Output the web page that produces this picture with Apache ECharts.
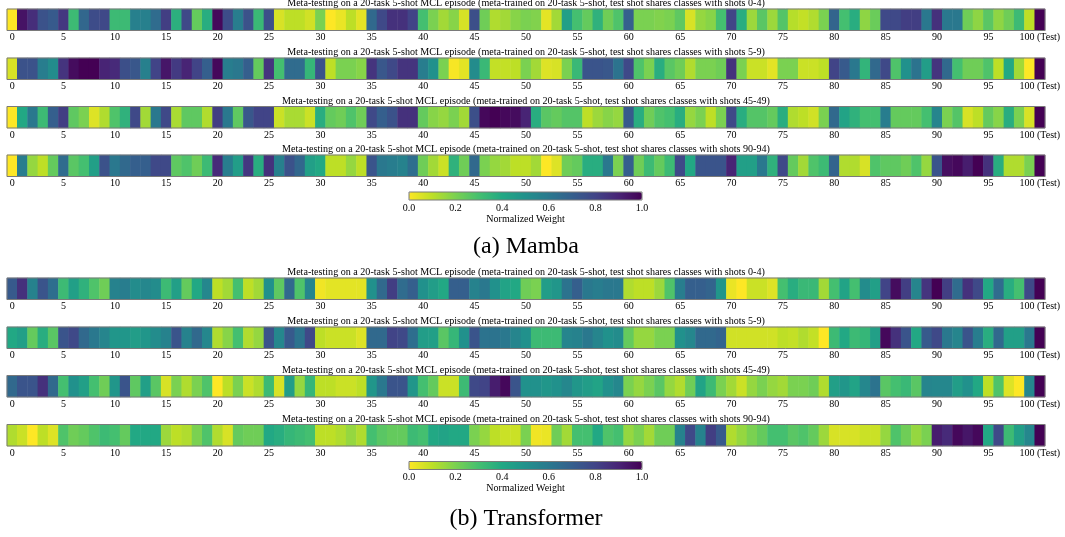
<!DOCTYPE html>
<html>
<head>
<meta charset="utf-8">
<script src="https://cdn.jsdelivr.net/npm/echarts@6/dist/echarts.min.js"></script>
<style>
  html, body { margin: 0; padding: 0; background: #fff; }
  #chart { width: 1065px; height: 537px; }
</style>
</head>
<body>
<div id="chart"></div>
<script>
// shot positions 0..100 (100 = test shot)
const positions = Array.from({ length: 101 }, (_, i) => String(i));
const tickLabels = ['0', '5', '10', '15', '20', '25', '30', '35', '40', '45', '50',
  '55', '60', '65', '70', '75', '80', '85', '90', '95', '100 (Test)'];
const colorbarTicks = [0, 0.2, 0.4, 0.6, 0.8, 1.0];

const titlePrefix = 'Meta-testing on a 20-task 5-shot MCL episode (meta-trained on 20-task 5-shot, test shot shares classes with shots ';
const shotGroups = ['0-4', '5-9', '45-49', '90-94'];

// normalized attention weights, Mamba
const mamba0_4 = [0.0,0.95,0.87,0.75,0.72,0.84,0.32,0.67,0.77,0.78, 0.32,0.32,0.57,0.57,0.65,0.82,0.37,0.78,0.24,0.38,
  0.98,0.77,0.58,0.75,0.33,0.76,0.06,0.10,0.10,0.07, 0.20,0.0,0.03,0.10,0.04,0.66,0.78,0.86,0.86,0.80,
  0.30,0.20,0.14,0.18,0.06,0.76,0.22,0.12,0.14,0.18, 0.20,0.19,0.04,0.14,0.44,0.30,0.24,0.36,0.22,0.28,
  0.70,0.20,0.20,0.19,0.20,0.25,0.06,0.16,0.18,0.30, 0.80,0.38,0.15,0.26,0.15,0.27,0.11,0.09,0.12,0.20,
  0.68,0.30,0.38,0.17,0.23,0.78,0.78,0.82,0.82,0.60, 0.86,0.60,0.60,0.22,0.17,0.26,0.17,0.22,0.32,0.10, 1.0];
const mamba5_9 = [0.06,0.75,0.75,0.58,0.52,0.85,0.97,1.0,1.0,0.90, 0.88,0.76,0.73,0.57,0.80,0.94,0.83,0.90,0.80,0.70,
  0.98,0.58,0.60,0.70,0.24,0.85,0.30,0.65,0.65,0.34, 0.75,0.10,0.20,0.20,0.18,0.85,0.73,0.78,0.85,0.85,
  0.58,0.50,0.20,0.01,0.04,0.52,0.33,0.09,0.09,0.10, 0.20,0.14,0.05,0.06,0.20,0.33,0.74,0.74,0.73,0.62,
  0.78,0.28,0.20,0.38,0.26,0.22,0.12,0.20,0.20,0.22, 0.86,0.20,0.08,0.08,0.04,0.20,0.20,0.08,0.08,0.10,
  0.80,0.72,0.60,0.35,0.66,0.78,0.28,0.50,0.62,0.45, 0.85,0.66,0.30,0.22,0.22,0.28,0.10,0.40,0.14,0.0, 1.0];
const mamba45_49 = [0.0,0.40,0.60,0.32,0.70,0.82,0.25,0.20,0.05,0.12, 0.28,0.36,0.78,0.14,0.60,0.78,0.13,0.25,0.25,0.12,
  0.82,0.60,0.25,0.73,0.80,0.80,0.08,0.13,0.13,0.08, 0.38,0.24,0.22,0.28,0.22,0.78,0.70,0.75,0.86,0.86,
  0.24,0.18,0.16,0.20,0.14,0.76,0.98,1.0,0.98,0.97, 0.90,0.38,0.26,0.24,0.27,0.27,0.10,0.15,0.18,0.16,
  0.72,0.38,0.22,0.28,0.30,0.38,0.16,0.20,0.10,0.20, 0.78,0.38,0.27,0.27,0.24,0.38,0.12,0.10,0.07,0.20,
  0.66,0.42,0.36,0.30,0.30,0.58,0.24,0.24,0.24,0.30, 0.55,0.20,0.27,0.06,0.10,0.24,0.18,0.38,0.20,0.06, 1.0];
const mamba90_94 = [0.0,0.58,0.16,0.10,0.24,0.65,0.26,0.30,0.44,0.75, 0.60,0.66,0.70,0.70,0.78,0.78,0.25,0.28,0.22,0.32,
  0.88,0.58,0.45,0.84,0.38,0.86,0.57,0.75,0.67,0.44, 0.40,0.10,0.10,0.16,0.10,0.74,0.60,0.58,0.56,0.64,
  0.22,0.14,0.08,0.36,0.22,0.66,0.20,0.16,0.14,0.10, 0.10,0.14,0.0,0.05,0.22,0.24,0.38,0.38,0.60,0.20,
  0.70,0.22,0.32,0.24,0.32,0.78,0.40,0.74,0.74,0.74, 0.90,0.44,0.44,0.60,0.36,0.78,0.24,0.14,0.28,0.32,
  0.68,0.12,0.12,0.06,0.28,0.25,0.25,0.22,0.28,0.16, 0.74,0.96,0.98,0.92,1.0,0.86,0.38,0.12,0.12,0.20, 1.0];

// normalized attention weights, Transformer
const trans0_4 = [0.72,0.86,0.56,0.74,0.64,0.32,0.44,0.36,0.28,0.22, 0.56,0.58,0.52,0.54,0.52,0.32,0.44,0.24,0.40,0.54,
  0.10,0.14,0.30,0.10,0.14,0.50,0.25,0.66,0.28,0.55, 0.02,0.04,0.04,0.04,0.04,0.50,0.66,0.82,0.65,0.70,
  0.50,0.45,0.40,0.70,0.70,0.56,0.60,0.50,0.42,0.40, 0.22,0.20,0.45,0.48,0.62,0.70,0.60,0.58,0.60,0.60,
  0.12,0.10,0.10,0.15,0.28,0.58,0.70,0.70,0.68,0.48, 0.03,0.0,0.08,0.08,0.05,0.30,0.38,0.33,0.33,0.14,
  0.30,0.42,0.30,0.52,0.44,0.80,0.97,0.82,0.55,0.85, 1.0,0.82,0.65,0.86,0.78,0.40,0.65,0.38,0.30,0.78, 1.0];
const trans5_9 = [0.40,0.44,0.24,0.38,0.26,0.74,0.78,0.66,0.60,0.55, 0.48,0.48,0.45,0.48,0.52,0.56,0.74,0.56,0.66,0.54,
  0.12,0.18,0.30,0.12,0.16,0.74,0.54,0.72,0.62,0.78, 0.10,0.08,0.08,0.08,0.05,0.66,0.66,0.80,0.78,0.64,
  0.45,0.44,0.26,0.34,0.50,0.74,0.62,0.62,0.60,0.55, 0.50,0.32,0.32,0.32,0.55,0.56,0.60,0.55,0.50,0.52,
  0.24,0.16,0.16,0.20,0.20,0.50,0.54,0.66,0.66,0.68, 0.07,0.07,0.07,0.07,0.07,0.10,0.09,0.12,0.09,0.0,
  0.32,0.40,0.32,0.34,0.44,0.98,0.86,0.74,0.40,0.72, 0.78,0.60,0.55,0.74,0.58,0.38,0.66,0.44,0.44,0.60, 1.0];
const trans45_49 = [0.66,0.74,0.74,0.86,0.66,0.30,0.50,0.44,0.30,0.22, 0.48,0.74,0.25,0.44,0.26,0.06,0.20,0.12,0.20,0.28,
  0.0,0.10,0.20,0.08,0.12,0.32,0.06,0.45,0.16,0.34, 0.10,0.10,0.08,0.08,0.10,0.48,0.60,0.74,0.74,0.48,
  0.30,0.24,0.08,0.08,0.32,0.78,0.80,0.92,0.98,0.74, 0.50,0.50,0.48,0.50,0.54,0.48,0.45,0.42,0.50,0.54,
  0.20,0.16,0.20,0.26,0.16,0.12,0.22,0.42,0.32,0.20, 0.14,0.08,0.16,0.20,0.16,0.14,0.20,0.20,0.22,0.12,
  0.44,0.48,0.42,0.54,0.62,0.26,0.30,0.33,0.26,0.55, 0.54,0.54,0.45,0.50,0.40,0.10,0.28,0.05,0.0,0.54, 1.0];
const trans90_94 = [0.12,0.08,0.0,0.10,0.05,0.28,0.22,0.24,0.28,0.32, 0.30,0.24,0.40,0.40,0.40,0.15,0.10,0.12,0.20,0.28,
  0.12,0.06,0.24,0.22,0.22,0.40,0.38,0.34,0.32,0.30, 0.10,0.10,0.12,0.16,0.12,0.30,0.26,0.24,0.24,0.32,
  0.30,0.40,0.42,0.40,0.40,0.20,0.16,0.10,0.08,0.08, 0.20,0.02,0.03,0.22,0.14,0.30,0.30,0.40,0.28,0.30,
  0.16,0.20,0.14,0.22,0.22,0.56,0.78,0.56,0.82,0.72, 0.12,0.16,0.20,0.24,0.30,0.30,0.26,0.28,0.24,0.15,
  0.06,0.06,0.06,0.08,0.08,0.16,0.28,0.22,0.16,0.20, 0.92,0.88,0.98,0.94,0.98,0.40,0.78,0.32,0.44,0.54, 1.0];

// viridis, reversed (0 = yellow, 1 = purple)
const viridisR = ['#fde725', '#bddf26', '#7ad151', '#44bf70', '#22a884', '#21918c',
  '#2a788e', '#355f8d', '#414487', '#482475', '#440154'];

const FONT = 'Liberation Serif';
const STRIP_LEFT = 7, STRIP_W = 1038, CX = 526;

const panels = [
  { data: mamba0_4, group: shotGroups[0], top: 9 },
  { data: mamba5_9, group: shotGroups[1], top: 58 },
  { data: mamba45_49, group: shotGroups[2], top: 106.5 },
  { data: mamba90_94, group: shotGroups[3], top: 155 },
  { data: trans0_4, group: shotGroups[0], top: 278 },
  { data: trans5_9, group: shotGroups[1], top: 327 },
  { data: trans45_49, group: shotGroups[2], top: 375.5 },
  { data: trans90_94, group: shotGroups[3], top: 424.5 },
];
const STRIP_H = 21.5;

const colorbars = [
  { top: 192, series: [0, 1, 2, 3] },
  { top: 461.5, series: [4, 5, 6, 7] },
];

const grid = [], xAxis = [], yAxis = [], series = [], title = [];

panels.forEach((p, i) => {
  grid.push({ left: STRIP_LEFT, top: p.top, width: STRIP_W, height: STRIP_H,
    show: true, borderColor: '#7a7a7a', borderWidth: 1, backgroundColor: 'transparent', z: 5 });
  xAxis.push({
    type: 'category', gridIndex: i, data: positions,
    axisLine: { show: false }, axisTick: { show: false }, splitLine: { show: false },
    axisLabel: { interval: 4, margin: 2, fontFamily: FONT, fontSize: 10, color: '#000',
      formatter: (v, idx) => tickLabels[idx / 5] }
  });
  yAxis.push({ type: 'category', gridIndex: i, data: [''], show: false });
  series.push({
    type: 'heatmap', xAxisIndex: i, yAxisIndex: i,
    data: p.data.map((v, k) => [k, 0, v]),
    itemStyle: { borderWidth: 0 },
    emphasis: { disabled: true }
  });
  title.push({
    text: titlePrefix + p.group + ')', left: CX, top: p.top - 10.5, textAlign: 'center', padding: 0,
    textStyle: { fontFamily: FONT, fontSize: 10.1, fontWeight: 'normal', color: '#000' }
  });
});

const visualMap = [];
colorbars.forEach((c, j) => {
  const gi = grid.length;
  grid.push({ left: 409, top: c.top, width: 233, height: 8, show: true,
    borderColor: '#7a7a7a', borderWidth: 1, backgroundColor: 'transparent', z: 5 });
  xAxis.push({
    type: 'value', gridIndex: gi, min: colorbarTicks[0], max: colorbarTicks[colorbarTicks.length - 1], interval: 0.2,
    axisLine: { show: false }, axisTick: { show: false }, splitLine: { show: false },
    axisLabel: { margin: 3, fontFamily: FONT, fontSize: 10, color: '#000', formatter: v => v.toFixed(1) },
    name: 'Normalized Weight', nameLocation: 'middle', nameGap: 14,
    nameTextStyle: { fontFamily: FONT, fontSize: 10, color: '#000' }
  });
  yAxis.push({ type: 'value', gridIndex: gi, show: false });
  visualMap.push({
    type: 'continuous', min: 0, max: 1, orient: 'horizontal',
    left: 409, top: c.top, itemWidth: 8, itemHeight: 233, padding: 0,
    calculable: false, text: null, hoverLink: false,
    seriesIndex: c.series, inRange: { color: viridisR }
  });
});

title.push({ text: '(a) Mamba', left: CX, top: 235, textAlign: 'center', padding: 0,
  textStyle: { fontFamily: FONT, fontSize: 24, fontWeight: 'normal', color: '#000' } });
title.push({ text: '(b) Transformer', left: CX, top: 507, textAlign: 'center', padding: 0,
  textStyle: { fontFamily: FONT, fontSize: 24, fontWeight: 'normal', color: '#000' } });

const chart = echarts.init(document.getElementById('chart'));
chart.setOption({
  animation: false,
  backgroundColor: '#fff',
  title, grid, xAxis, yAxis, visualMap, series
});
</script>
</body>
</html>
